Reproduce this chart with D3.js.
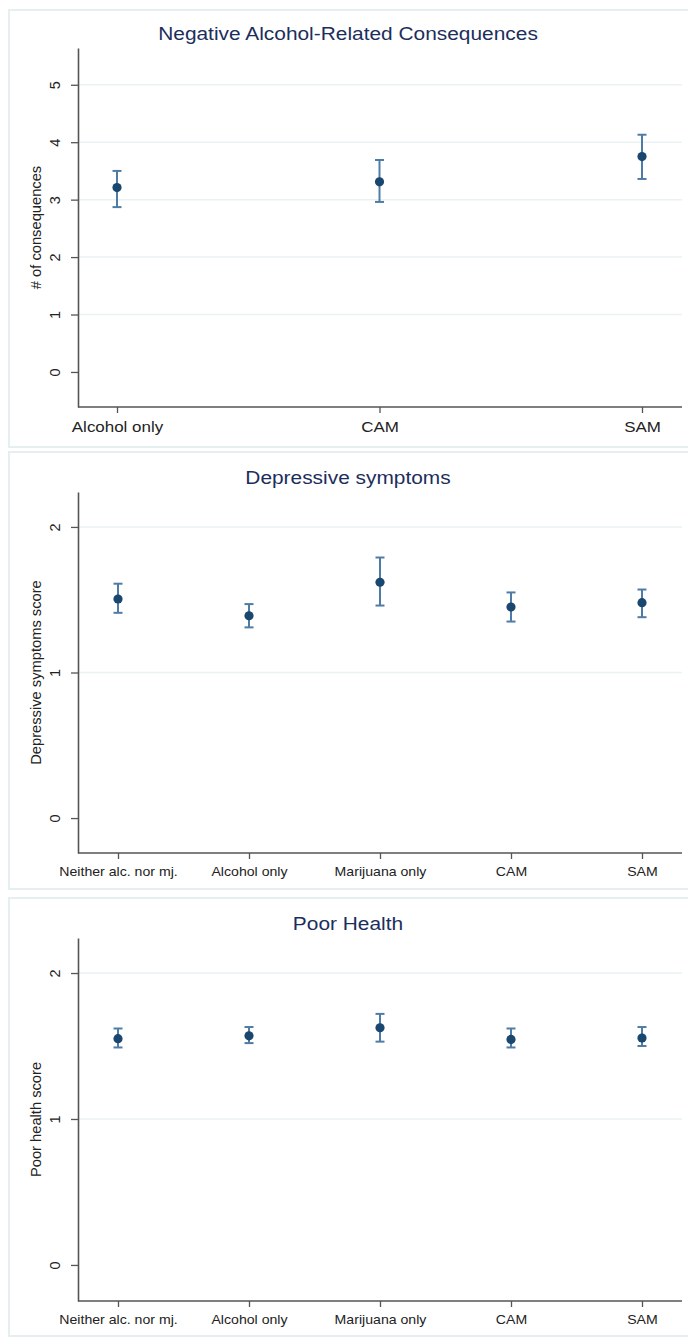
<!DOCTYPE html>
<html>
<head>
<meta charset="utf-8">
<script src="https://cdn.jsdelivr.net/npm/d3@7"></script>
<style>
  body { margin: 0; background: #fff; }
  svg { display: block; font-family: "Liberation Sans", Arial, sans-serif; }
</style>
</head>
<body>
<svg id="viz" width="688" height="1339"></svg>
<script>
// panel 1: negative alcohol-related consequences
var conseqGroups = ["Alcohol only", "CAM", "SAM"];
var conseqMean = [3.21, 3.31, 3.75];
var conseqLow = [2.87, 2.96, 3.36];
var conseqHigh = [3.5, 3.69, 4.13];
var conseqTicks = [0, 1, 2, 3, 4, 5];

// panels 2 and 3 share the five groups
var fiveGroups = ["Neither alc. nor mj.", "Alcohol only", "Marijuana only", "CAM", "SAM"];
var depMean = [1.505, 1.39, 1.62, 1.45, 1.48];
var depLow = [1.41, 1.31, 1.46, 1.35, 1.38];
var depHigh = [1.61, 1.47, 1.79, 1.55, 1.57];
var healthMean = [1.55, 1.57, 1.625, 1.545, 1.555];
var healthLow = [1.49, 1.52, 1.53, 1.49, 1.5];
var healthHigh = [1.62, 1.63, 1.72, 1.62, 1.63];
var scoreTicks = [0, 1, 2];

var svg = d3.select("#viz");
var navy = "#1a476f";
var ciColor = "#4f7ca6";

var panels = [
  {
    title: "Negative Alcohol-Related Consequences", ylab: "# of consequences",
    groups: conseqGroups, mean: conseqMean, low: conseqLow, high: conseqHigh,
    ticks: conseqTicks, ydom: [-0.61, 5.64],
    box: [9, 10, 692, 447], titleY: 40, plotTop: 48, plotBottom: 407,
    xRange: [117, 642], xFont: 15
  },
  {
    title: "Depressive symptoms", ylab: "Depressive symptoms score",
    groups: fiveGroups, mean: depMean, low: depLow, high: depHigh,
    ticks: scoreTicks, ydom: [-0.24, 2.24],
    box: [9, 452, 692, 889], titleY: 484, plotTop: 492, plotBottom: 853,
    xRange: [118, 642], xFont: 12.5
  },
  {
    title: "Poor Health", ylab: "Poor health score",
    groups: fiveGroups, mean: healthMean, low: healthLow, high: healthHigh,
    ticks: scoreTicks, ydom: [-0.247, 2.24],
    box: [9, 898, 692, 1336], titleY: 930, plotTop: 938, plotBottom: 1301,
    xRange: [118, 642], xFont: 12.5
  }
];

var axisLeftX = 78;
var axisRightX = 682;

panels.forEach(function (p) {
  var g = svg.append("g");

  // panel frame
  g.append("rect")
    .attr("x", p.box[0])
    .attr("y", p.box[1])
    .attr("width", p.box[2] - p.box[0])
    .attr("height", p.box[3] - p.box[1])
    .attr("fill", "#fff")
    .attr("stroke", "#e6eff0")
    .attr("stroke-width", 2);

  var x = d3.scalePoint().domain(p.groups).range(p.xRange);
  var y = d3.scaleLinear().domain(p.ydom).range([p.plotBottom, p.plotTop]);

  // grid lines
  g.selectAll(".grid")
    .data(p.ticks.filter(function (t) { return t > 0; }))
    .enter()
    .append("line")
    .attr("x1", axisLeftX)
    .attr("x2", axisRightX)
    .attr("y1", function (d) { return y(d); })
    .attr("y2", function (d) { return y(d); })
    .attr("stroke", "#eaf2f3")
    .attr("stroke-width", 1.5);

  // y axis
  var yAxis = g.append("g")
    .attr("transform", "translate(" + axisLeftX + ",0)")
    .call(d3.axisLeft(y).tickValues(p.ticks).tickSize(7).tickSizeOuter(0).tickFormat(d3.format("d")));
  yAxis.select(".domain").attr("stroke", "#555").attr("stroke-width", 1.6);
  yAxis.selectAll(".tick line").attr("stroke", "#555").attr("stroke-width", 1.3);
  yAxis.selectAll(".tick text")
    .attr("x", 0)
    .attr("y", 0)
    .attr("transform", "translate(-18,0) rotate(-90)")
    .attr("text-anchor", "middle")
    .attr("dy", "0")
    .attr("fill", "#222")
    .style("font-size", "14.5px");

  // x axis
  var xAxis = g.append("g")
    .attr("transform", "translate(0," + p.plotBottom + ")")
    .call(d3.axisBottom(x).tickSize(6).tickSizeOuter(0).tickPadding(5));
  xAxis.select(".domain").attr("d", "M" + axisLeftX + ",0H" + axisRightX)
    .attr("stroke", "#555").attr("stroke-width", 1.6);
  xAxis.selectAll(".tick line").attr("stroke", "#555").attr("stroke-width", 1.3);
  xAxis.selectAll(".tick text")
    .attr("fill", "#222")
    .attr("dy", "0.95em")
    .attr("transform", "scale(1.13,1)")
    .style("font-size", p.xFont + "px");

  // title
  g.append("text")
    .attr("transform", "translate(348," + p.titleY + ") scale(1.13,1)")
    .attr("text-anchor", "middle")
    .attr("fill", "#1c2e5c")
    .style("font-size", "18.5px")
    .text(p.title);

  // y axis title
  g.append("text")
    .attr("transform", "translate(41," + (p.plotTop + p.plotBottom) / 2 + ") rotate(-90) scale(1.05,1)")
    .attr("text-anchor", "middle")
    .attr("fill", "#222")
    .style("font-size", "14px")
    .text(p.ylab);

  var rows = p.groups.map(function (d, i) {
    return { group: d, mean: p.mean[i], low: p.low[i], high: p.high[i] };
  });

  // confidence intervals
  var ci = g.selectAll(".ci").data(rows).enter().append("g");
  ci.append("line")
    .attr("x1", function (d) { return x(d.group); })
    .attr("x2", function (d) { return x(d.group); })
    .attr("y1", function (d) { return y(d.low); })
    .attr("y2", function (d) { return y(d.high); })
    .attr("stroke", ciColor)
    .attr("stroke-width", 2);
  ["low", "high"].forEach(function (k) {
    ci.append("line")
      .attr("x1", function (d) { return x(d.group) - 4.5; })
      .attr("x2", function (d) { return x(d.group) + 4.5; })
      .attr("y1", function (d) { return y(d[k]); })
      .attr("y2", function (d) { return y(d[k]); })
      .attr("stroke", ciColor)
      .attr("stroke-width", 2);
  });

  // means
  g.selectAll(".pt")
    .data(rows)
    .enter()
    .append("circle")
    .attr("cx", function (d) { return x(d.group); })
    .attr("cy", function (d) { return y(d.mean); })
    .attr("r", 4.6)
    .attr("fill", navy);
});
</script>
</body>
</html>
